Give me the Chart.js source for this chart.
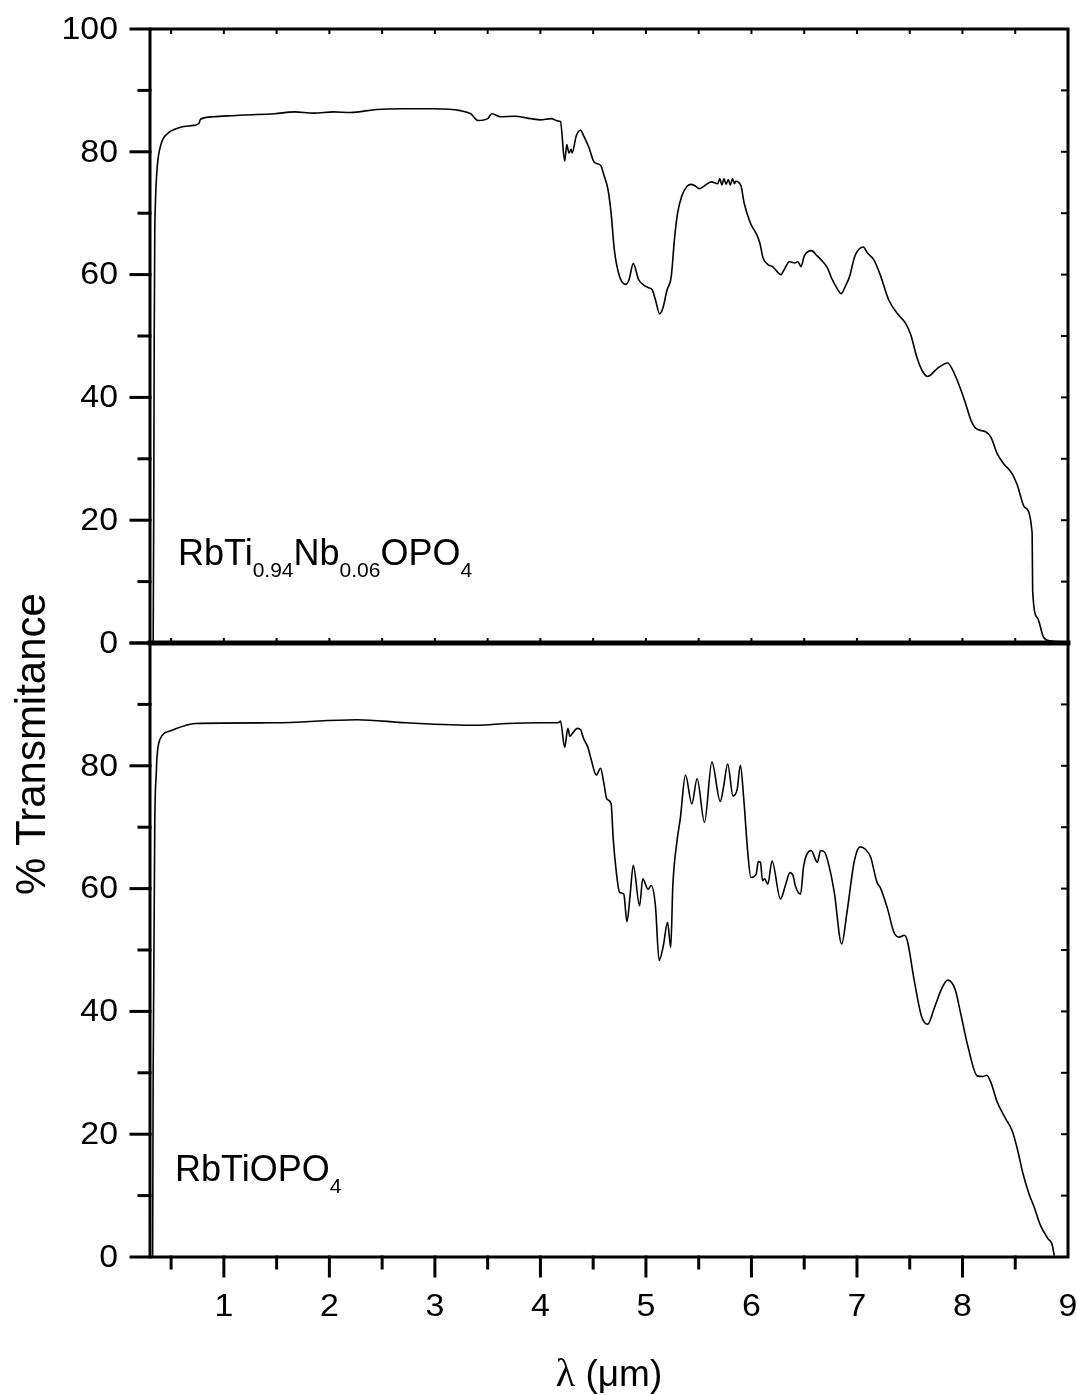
<!DOCTYPE html>
<html>
<head>
<meta charset="utf-8">
<script src="https://cdn.jsdelivr.net/npm/chart.js@4.4.1/dist/chart.umd.min.js"></script>
<style>
    html, body { margin: 0; padding: 0; background: #fff; }
    #wrap { width: 1077px; height: 1395px; }
</style>
</head>
<body>
<div id="wrap"><canvas id="grafico" width="1077" height="1395"></canvas></div>
<script>
// RbTi0.94Nb0.06OPO4 (painel de cima)
const lambdaNb = [
    0.33, 0.335, 0.34, 0.345, 0.352, 0.368, 0.406, 0.463, 0.589, 0.716, 0.763, 0.779,
    0.90, 1.18, 1.48, 1.67, 1.85, 2.04, 2.20, 2.45, 2.70, 3.00, 3.24, 3.34, 3.41, 3.50,
    3.54, 3.62, 3.75, 3.91, 4.00, 4.10, 4.17, 4.19, 4.23, 4.25, 4.27, 4.29, 4.30, 4.34,
    4.38, 4.41, 4.46, 4.51, 4.57, 4.60, 4.64, 4.67, 4.70, 4.75, 4.81, 4.84, 4.88, 4.93,
    4.98, 5.02, 5.06, 5.09, 5.13, 5.16, 5.20, 5.24, 5.27, 5.30, 5.34, 5.39, 5.43, 5.47,
    5.51, 5.55, 5.62, 5.68, 5.70, 5.72, 5.74, 5.76, 5.78, 5.80, 5.82, 5.84, 5.85, 5.90,
    5.93, 5.99, 6.05, 6.08, 6.11, 6.16, 6.20, 6.28, 6.31, 6.36, 6.41, 6.44, 6.47, 6.50,
    6.57, 6.62, 6.66, 6.72, 6.76, 6.81, 6.85, 6.89, 6.93, 6.98, 7.06, 7.10, 7.16, 7.22,
    7.30, 7.40, 7.46, 7.51, 7.57, 7.62, 7.67, 7.76, 7.86, 7.90, 7.95, 8.02, 8.08, 8.13,
    8.22, 8.27, 8.33, 8.39, 8.47, 8.52, 8.59, 8.66, 8.665, 8.71, 8.77, 8.84, 8.96, 9.0
];
const transNb = [
    0, 20, 50, 66, 72, 77.4, 81.3, 82.9, 84.0, 84.3, 84.6, 85.3,
    85.7, 86.0, 86.2, 86.5, 86.3, 86.5, 86.4, 86.9, 87.0, 87.0, 86.7, 86.2, 85.1, 85.4,
    86.2, 85.7, 85.8, 85.4, 85.2, 85.4, 85.0, 84.9, 78.5, 81.2, 79.8, 80.4, 79.8, 82.6,
    83.5, 82.6, 80.7, 78.3, 77.8, 76.3, 73.9, 70.0, 64.1, 59.7, 58.4, 59.2, 61.8, 59.2,
    58.3, 57.9, 57.5, 55.9, 53.6, 54.5, 57.5, 59.7, 65.7, 70.0, 72.8, 74.4, 74.7, 74.4,
    74.0, 74.4, 75.1, 74.8, 75.6, 74.6, 75.6, 74.7, 75.5, 74.6, 75.6, 74.8, 75.2, 74.5,
    71.7, 68.4, 66.5, 65.1, 62.7, 61.6, 61.3, 60.0, 60.8, 62.1, 61.9, 62.1, 61.3, 63.0,
    63.9, 63.1, 62.4, 61.1, 59.4, 57.8, 56.9, 58.1, 59.7, 63.0, 64.5, 63.5, 62.4, 60.0,
    55.9, 53.3, 52.1, 50.2, 46.4, 44.3, 43.4, 44.7, 45.6, 44.7, 42.8, 39.5, 36.3, 34.9,
    34.4, 33.5, 30.8, 29.2, 27.6, 25.7, 22.1, 18.0, 8.5, 4.1, 0.9, 0.3, 0.2, 0.2
];

// RbTiOPO4 (painel de baixo)
const lambdaRTP = [
    0.325, 0.33, 0.345, 0.36, 0.367, 0.397, 0.497, 0.727, 1.47, 2.26, 2.73, 3.40, 3.69,
    4.00, 4.16, 4.18, 4.19, 4.23, 4.26, 4.28, 4.30, 4.35, 4.38, 4.41, 4.45, 4.48, 4.53,
    4.57, 4.60, 4.63, 4.67, 4.69, 4.72, 4.75, 4.79, 4.82, 4.85, 4.88, 4.94, 4.97, 5.02,
    5.05, 5.09, 5.125, 5.165, 5.205, 5.235, 5.255, 5.295, 5.325, 5.375, 5.435, 5.485,
    5.555, 5.625, 5.705, 5.735, 5.775, 5.825, 5.865, 5.895, 5.925, 5.965, 5.995, 6.045,
    6.065, 6.085, 6.105, 6.125, 6.155, 6.195, 6.275, 6.325, 6.365, 6.395, 6.415, 6.465,
    6.495, 6.565, 6.625, 6.655, 6.695, 6.735, 6.785, 6.855, 6.905, 6.975, 7.03, 7.08,
    7.13, 7.19, 7.22, 7.29, 7.35, 7.40, 7.45, 7.48, 7.54, 7.61, 7.67, 7.73, 7.80, 7.86,
    7.93, 7.98, 8.05, 8.14, 8.19, 8.23, 8.27, 8.33, 8.41, 8.47, 8.52, 8.57, 8.63, 8.68,
    8.74, 8.81, 8.85, 8.87
];
const transRTP = [
    0, 30, 70, 79, 81.6, 84.4, 85.7, 86.9, 87.0, 87.5, 87.0, 86.6, 86.9,
    87.0, 87.0, 87.1, 87.3, 83.0, 86.1, 84.8, 85.2, 86.1, 85.9, 84.4, 83.0, 81.1, 78.5,
    79.6, 77.3, 74.6, 73.8, 68.1, 62.6, 59.4, 59.1, 54.6, 58.9, 63.8, 57.2, 61.6, 59.9,
    60.5, 57.2, 48.3, 50.7, 54.5, 50.4, 60.5, 67.8, 71.3, 78.5, 73.8, 77.9,
    70.8, 80.6, 74.2, 76.5, 80.3, 75.1, 76.2, 80.1, 75.1, 65.9, 61.8, 62.4,
    64.4, 64.3, 61.3, 61.6, 60.7, 64.5, 58.3, 60.7, 62.6, 62.1, 60.5, 59.1,
    63.7, 66.2, 64.3, 66.2, 65.9, 63.7, 59.4, 51.0, 56.1, 64.5, 66.8, 66.4,
    65.1, 61.0, 60.2, 56.7, 52.9, 52.1, 52.4, 51.3, 45.3, 39.3, 37.9, 40.4, 43.6, 45.1,
    43.6, 39.9, 34.4, 29.5, 29.4, 29.6, 28.4, 25.2, 22.5, 20.6, 17.6, 13.8, 10.3, 8.1,
    5.1, 3.0, 2.0, 0.2
];

const xTicks = [1, 2, 3, 4, 5, 6, 7, 8, 9];
const yTicksTop = [0, 20, 40, 60, 80, 100];
const yTicksBottom = [0, 20, 40, 60, 80];

const FONTE = "'Liberation Sans', Arial, sans-serif";

function pontos(xs, ys) {
    return xs.map((x, i) => ({ x: x, y: ys[i] }));
}

function linha(ctx, x1, y1, x2, y2) {
    ctx.beginPath();
    ctx.moveTo(x1, y1);
    ctx.lineTo(x2, y2);
    ctx.stroke();
}

function texto(ctx, s, px, py, align, esticar) {
    ctx.save();
    ctx.translate(px, py);
    ctx.scale(esticar, 1);
    ctx.textAlign = align;
    ctx.fillText(s, 0, 0);
    ctx.restore();
}

// escreve a formula com indices
function formula(ctx, partes, px, py) {
    let cx = px;
    ctx.textAlign = 'left';
    ctx.textBaseline = 'alphabetic';
    partes.forEach(function (p) {
        ctx.font = p[1] ? `21px ${FONTE}` : `36px ${FONTE}`;
        ctx.fillText(p[0], cx, p[1] ? py + 12 : py);
        cx += ctx.measureText(p[0]).width;
    });
}

const moldura = {
    id: 'moldura',
    afterDatasetsDraw(chart) {
        const ctx = chart.ctx;
        const x = chart.scales.x, yT = chart.scales.yTop, yB = chart.scales.yBot;
        const esq = x.getPixelForValue(x.min), dir = x.getPixelForValue(x.max);
        const topo = yT.getPixelForValue(100), meio = yT.getPixelForValue(0), base = yB.getPixelForValue(0);

        ctx.save();
        ctx.strokeStyle = '#000';
        ctx.fillStyle = '#000';
        ctx.lineCap = 'square';

        // ticks
        ctx.lineWidth = 3;
        for (let v = 0; v <= 100; v += 10) {
            const comp = v % 20 === 0 ? 19 : 11;
            [yT, yB].forEach(function (ys) {
                const py = ys.getPixelForValue(v);
                linha(ctx, esq - comp, py, esq, py);
            });
        }
        ctx.lineWidth = 2;
        for (let v = 10; v < 100; v += 10) {
            [yT, yB].forEach(function (ys) {
                const py = ys.getPixelForValue(v);
                linha(ctx, dir - 6, py, dir, py);
            });
        }
        for (let v = 0.5; v < 9; v += 0.5) {
            const px = x.getPixelForValue(v);
            ctx.lineWidth = 2;
            linha(ctx, px, topo, px, topo + 4);
            linha(ctx, px, meio - 4, px, meio);
            ctx.lineWidth = 3;
            linha(ctx, px, base, px, base + (Number.isInteger(v) ? 19 : 11));
        }

        // moldura
        ctx.lineWidth = 3;
        ctx.strokeRect(esq, topo, dir - esq, base - topo);
        ctx.lineWidth = 5;
        linha(ctx, esq, meio, dir, meio);

        // rotulos dos eixos
        ctx.font = `32px ${FONTE}`;
        ctx.textBaseline = 'middle';
        yTicksTop.forEach(function (v) {
            texto(ctx, String(v), 118, yT.getPixelForValue(v) + 1, 'right', 1.06);
        });
        yTicksBottom.forEach(function (v) {
            texto(ctx, String(v), 118, yB.getPixelForValue(v) + 1, 'right', 1.06);
        });
        ctx.textBaseline = 'alphabetic';
        xTicks.forEach(function (v) {
            texto(ctx, String(v), x.getPixelForValue(v), 1316, 'center', 1.06);
        });

        // titulo y
        ctx.save();
        ctx.translate(33, 744);
        ctx.rotate(-Math.PI / 2);
        ctx.font = `42px ${FONTE}`;
        ctx.textAlign = 'center';
        ctx.textBaseline = 'middle';
        ctx.fillText('% Transmitance', 0, 0);
        ctx.restore();

        // titulo x
        ctx.textBaseline = 'alphabetic';
        ctx.textAlign = 'left';
        ctx.font = `40px 'Liberation Serif', serif`;
        const wL = ctx.measureText('λ').width;
        ctx.font = `37px ${FONTE}`;
        const wR = ctx.measureText(' (μm)').width;
        const x0 = 609 - (wL + wR) / 2;
        ctx.font = `40px 'Liberation Serif', serif`;
        ctx.fillText('λ', x0, 1386);
        ctx.font = `37px ${FONTE}`;
        ctx.fillText(' (μm)', x0 + wL, 1386);

        // nomes das amostras
        formula(ctx, [['RbTi', false], ['0.94', true], ['Nb', false], ['0.06', true], ['OPO', false], ['4', true]], 178, 565);
        formula(ctx, [['RbTiOPO', false], ['4', true]], 175, 1181);

        ctx.restore();
    }
};

const ctx = document.getElementById('grafico').getContext('2d');
new Chart(ctx, {
    type: 'line',
    data: {
        datasets: [
            {
                label: 'RbTi0.94Nb0.06OPO4',
                data: pontos(lambdaNb, transNb),
                xAxisID: 'x',
                yAxisID: 'yTop',
                borderColor: '#000',
                borderWidth: 1.6,
                pointRadius: 0,
                cubicInterpolationMode: 'monotone',
                fill: false
            },
            {
                label: 'RbTiOPO4',
                data: pontos(lambdaRTP, transRTP),
                xAxisID: 'x',
                yAxisID: 'yBot',
                borderColor: '#000',
                borderWidth: 1.6,
                pointRadius: 0,
                cubicInterpolationMode: 'monotone',
                fill: false
            }
        ]
    },
    options: {
        responsive: false,
        animation: false,
        devicePixelRatio: 1,
        layout: { padding: { left: 150, right: 9, top: 29, bottom: 138 } },
        plugins: {
            legend: { display: false },
            tooltip: { enabled: false }
        },
        scales: {
            x: { type: 'linear', min: 0.3, max: 9, display: false },
            // painel de cima ocupa a metade superior (0..100 de -100..100)
            yTop: { type: 'linear', min: -100, max: 100, display: false },
            // painel de baixo ocupa a metade inferior (0..100 de 0..200)
            yBot: { type: 'linear', min: 0, max: 200, display: false }
        }
    },
    plugins: [moldura]
});
</script>
</body>
</html>
